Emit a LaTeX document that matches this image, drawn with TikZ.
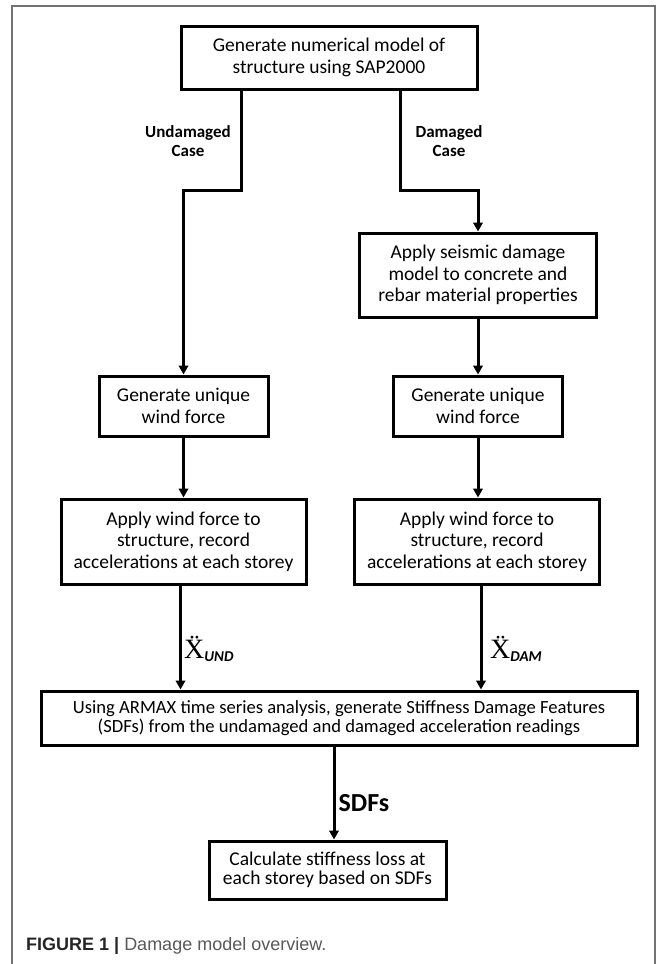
\documentclass[tikz,border=0pt]{standalone}
\usepackage{fontspec}
\setmainfont{Carlito}
\newfontfamily\serifX{Liberation Serif}
\newfontfamily\capfont{Liberation Sans}
\usetikzlibrary{arrows.meta}
\begin{document}
\begin{tikzpicture}[x=1pt,y=-1pt,
  box/.style={draw=black, line width=3pt, align=center, inner sep=0pt,
    font=\fontsize{19.5}{21.5}\selectfont, text=black},
  arr/.style={line width=3pt, -{Triangle[length=9pt,width=9.5pt]}},
  lbl/.style={font=\fontsize{17}{18.5}\selectfont\bfseries, align=center, inner sep=0pt},
  acc/.style={inner sep=0pt, anchor=base west}]
\useasboundingbox (0,0) rectangle (667,964);
\fill[white] (0,0) rectangle (667,964);
% outer frame
\draw[line width=1.4pt, black!55] (12,970) -- (12,6) -- (655,6) -- (655,970);

% boxes
\node[box, minimum width=296pt, minimum height=63pt] (top) at (329,57.5)
  {Generate numerical model of\\structure using SAP2000};
\node[box, minimum width=237pt, minimum height=84pt] (dmg) at (478,275)
  {Apply seismic damage\\model to concrete and\\rebar material properties};
\node[box, minimum width=169pt, minimum height=60pt] (genL) at (183.5,406)
  {Generate unique\\wind force};
\node[box, minimum width=169pt, minimum height=60pt] (genR) at (478,406)
  {Generate unique\\wind force};
\node[box, minimum width=245pt, minimum height=85pt] (appL) at (183.5,541.5)
  {Apply wind force to\\structure, record\\accelerations at each storey};
\node[box, minimum width=245pt, minimum height=85pt] (appR) at (477,541.5)
  {Apply wind force to\\structure, record\\accelerations at each storey};
\node[box, minimum width=596pt, minimum height=54pt,
  font=\fontsize{18.6}{18.5}\selectfont] (armax) at (339,718)
  {Using ARMAX time series analysis, generate Stiffness Damage Features\\(SDFs) from the undamaged and damaged acceleration readings};
\node[box, minimum width=237pt, minimum height=58pt,
  font=\fontsize{19.5}{19.5}\selectfont] (final) at (327.5,870)
  {Calculate stiffness loss at\\each storey based on SDFs};

% connectors
\coordinate (jL) at (183.5,190);
\coordinate (jR) at (478,190);
\coordinate (sx) at (334,0);
\draw[arr] ([xshift=-88pt]top.south) |- (jL) -- (genL.north);
\draw[arr] ([xshift=71pt]top.south) |- (jR) -- (dmg.north);
\draw[arr] (dmg.south) -- (genR.north);
\draw[arr] (genL.south) -- (appL.north);
\draw[arr] (genR.south) -- (genR.south |- appR.north);
\draw[arr] ([xshift=-3pt]appL.south) -- ([xshift=-3pt]appL.south |- armax.north);
\draw[arr] ([xshift=4pt]appR.south) -- ([xshift=4pt]appR.south |- armax.north);
\draw[arr] (armax.south -| sx) -- (final.north -| sx);

% labels
\node[lbl] (lu) at (188,141) {Undamaged\\Case};
\node[lbl] (ld) at (449,141) {Damaged\\Case};
\node[acc] (xu) at (184,658) {{\serifX\fontsize{28}{28}\selectfont \"X}\raisebox{-3pt}{\fontsize{15}{15}\selectfont\bfseries\itshape UND}};
\node[acc] (xd) at (490,658) {{\serifX\fontsize{28}{28}\selectfont \"X}\raisebox{-3pt}{\fontsize{15}{15}\selectfont\bfseries\itshape DAM}};
\node[inner sep=0pt, font=\fontsize{26}{26}\selectfont\bfseries] (sdf) at (364,803) {SDFs};

% caption
\node[inner sep=0pt, anchor=base west] (cap) at (26,950)
  {\capfont\fontsize{18}{18}\selectfont{\color{black!85}\bfseries FIGURE 1 |} {\color{black!65}Damage model overview.}};
\end{tikzpicture}
\end{document}
